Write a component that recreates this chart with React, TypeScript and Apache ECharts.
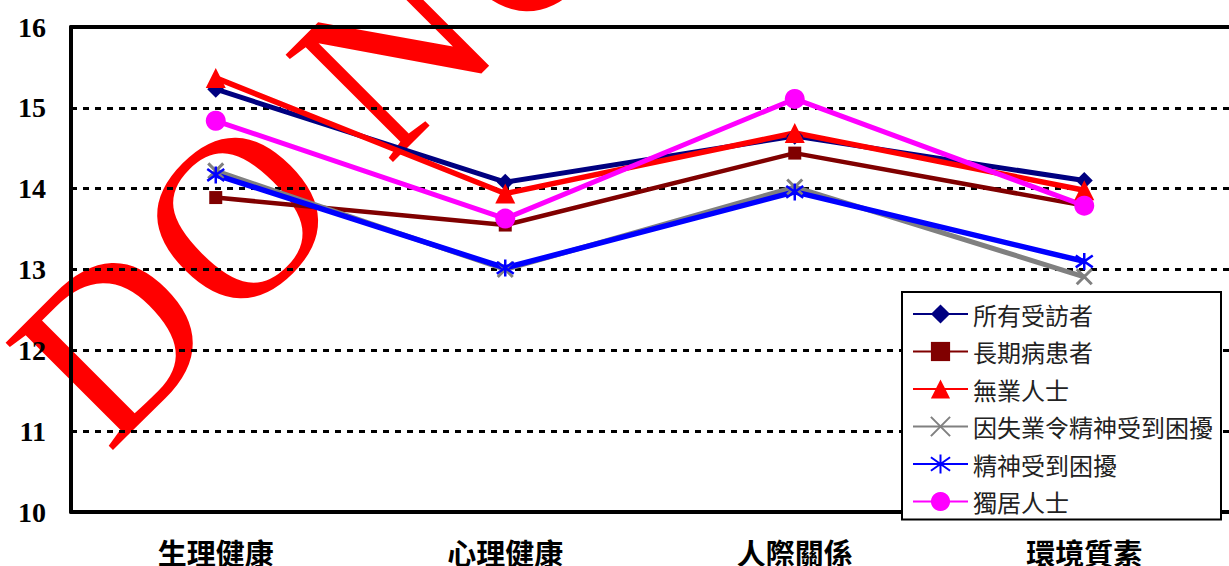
import React, { useEffect, useRef } from "react";
import * as echarts from "echarts";

const categories = ["生理健康", "心理健康", "人際關係", "環境質素"];
const seriesNames = [
  "所有受訪者",
  "長期病患者",
  "無業人士",
  "因失業令精神受到困擾",
  "精神受到困擾",
  "獨居人士",
];
const allRespondents = [15.23, 14.08, 14.65, 14.1];
const chronicPatients = [13.89, 13.55, 14.44, 13.79];
const unemployed = [15.37, 13.94, 14.69, 13.98];
const distressedByUnemployment = [14.22, 13.0, 14.02, 12.91];
const mentallyDistressed = [14.17, 13.02, 13.96, 13.1];
const livingAlone = [14.84, 13.63, 15.11, 13.79];
const yMin = 10;
const yMax = 16;
const yStep = 1;
const watermarkLetters = ["D", "O", "N", "O"];
const watermarkCenters = [
  [112, 340],
  [236, 216],
  [392, 52],
  [522, -71],
];

export default function App() {
  const ref = useRef<HTMLDivElement>(null);
  useEffect(() => {
    const chart = echarts.init(ref.current!, undefined, { renderer: "svg" });
    const mk = (
      name: string,
      data: number[],
      color: string,
      symbol: string,
      symbolSize: number,
      lineWidth: number,
      extra: any = {}
    ) => ({
      name,
      type: "line",
      data,
      symbol,
      symbolSize,
      showSymbol: true,
      lineStyle: { color, width: lineWidth },
      itemStyle: { color, ...extra },
      emphasis: { disabled: true },
      silent: true,
    });
    const xPath = "path://M0,0L10,10M10,0L0,10";
    const starPath = "path://M5,0L5,10M0,1.5L10,8.5M10,1.5L0,8.5";
    chart.setOption({
      animation: false,
      grid: { left: 71, top: 27, width: 1168, height: 488, containLabel: false },
      graphic: {
        elements: watermarkLetters.map((t, i) => ({
          type: "text",
          x: watermarkCenters[i][0],
          y: watermarkCenters[i][1],
          rotation: Math.PI / 4,
          z: -10,
          silent: true,
          style: {
            text: t,
            fontSize: 232,
            fontFamily: "Liberation Serif",
            fill: "#ff0000",
            align: "center",
            verticalAlign: "middle",
          },
        })),
      },
      legend: {
        orient: "vertical",
        left: 902,
        top: 292,
        itemWidth: 55,
        itemHeight: 24,
        itemGap: 13.5,
        padding: [10, 8, 6, 10],
        backgroundColor: "#ffffff",
        borderColor: "#000000",
        borderWidth: 2,
        selectedMode: false,
        data: seriesNames,
        textStyle: {
          fontSize: 24,
          lineHeight: 24,
          fontFamily: "Noto Sans CJK TC",
          color: "#222222",
        },
      },
      xAxis: [
        {
          type: "category",
          data: categories,
          boundaryGap: true,
          axisLine: { lineStyle: { color: "#000", width: 4 } },
          axisTick: { inside: true, length: 7, lineStyle: { color: "#000", width: 2 } },
          axisLabel: {
            fontSize: 29,
            fontWeight: "bold",
            fontFamily: "Noto Sans CJK TC",
            color: "#000",
            margin: 25,
            interval: 0,
          },
          splitLine: { show: false },
        },
        {
          type: "category",
          position: "top",
          data: categories,
          axisLine: { lineStyle: { color: "#000", width: 4 } },
          axisTick: { show: false },
          axisLabel: { show: false },
          splitLine: { show: false },
        },
      ],
      yAxis: {
        type: "value",
        min: yMin,
        max: yMax,
        interval: yStep,
        axisLine: { show: true, lineStyle: { color: "#000", width: 4 } },
        axisTick: { show: true, inside: true, length: 6, lineStyle: { color: "#000", width: 2 } },
        axisLabel: {
          fontSize: 28,
          fontWeight: "bold",
          fontFamily: "Liberation Serif",
          color: "#000",
          margin: 25,
        },
        splitLine: { lineStyle: { type: [6, 6], width: 3, color: "#000" } },
      },
      series: [
        mk(seriesNames[0], allRespondents, "#000080", "diamond", 17, 5),
        mk(seriesNames[1], chronicPatients, "#800000", "rect", 13, 4.5),
        mk(seriesNames[2], unemployed, "#ff0000", "triangle", 20, 5.5),
        mk(seriesNames[3], distressedByUnemployment, "#808080", xPath, 15, 5, {
          borderColor: "#808080",
          borderWidth: 3,
        }),
        mk(seriesNames[4], mentallyDistressed, "#0000ff", starPath, 17, 5.5, {
          borderColor: "#0000ff",
          borderWidth: 2.5,
        }),
        mk(seriesNames[5], livingAlone, "#ff00ff", "circle", 20, 5),
      ],
    });
    return () => chart.dispose();
  }, []);
  return (
    <div
      ref={ref}
      style={{ position: "fixed", left: 0, top: 0, width: 1229, height: 566, background: "#fff" }}
    />
  );
}
